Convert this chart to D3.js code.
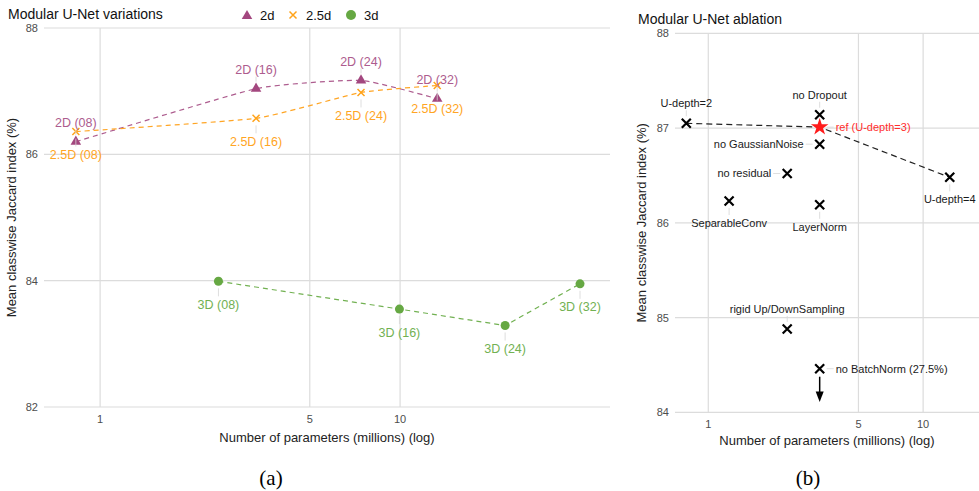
<!DOCTYPE html>
<html>
<head>
<meta charset="utf-8">
<script src="https://cdn.jsdelivr.net/npm/d3@7"></script>
<style>
  body { margin: 0; background: #fff; }
  svg { font-family: "Liberation Sans", Arial, sans-serif; }
</style>
</head>
<body>
<div id="chart"></div>
<script>
var width = 979
var height = 491

// panel (a) data
var sizeLabels = ["08", "16", "24", "32"]
var params2d = [0.83, 3.31, 7.41, 13.3]
var jac2d = [86.2, 87.04, 87.17, 86.88]
var params25d = [0.83, 3.31, 7.41, 13.3]
var jac25d = [86.36, 86.57, 86.98, 87.09]
var params3d = [2.48, 9.95, 22.4, 39.8]
var jac3d = [83.99, 83.55, 83.29, 83.95]
var legendNames = ["2d", "2.5d", "3d"]

// panel (b) data
var ablationNames = ["U-depth=2", "ref (U-depth=3)", "U-depth=4", "no Dropout", "no GaussianNoise",
    "no residual", "SeparableConv", "LayerNorm", "rigid Up/DownSampling", "no BatchNorm (27.5%)"]
var ablationParams = [0.79, 3.30, 13.3, 3.30, 3.30, 2.33, 1.25, 3.30, 2.33, 3.30]
var ablationJac = [87.05, 87.01, 86.48, 87.14, 86.83, 86.52, 86.23, 86.19, 84.88, 84.46]
var depthLine = [0, 1, 2]   // indices joined by the dashed line

var xTicks = [1, 5, 10]
var yTicksA = [82, 84, 86, 88]
var yTicksB = [84, 85, 86, 87, 88]

// label placement (style only)
var ablationPlace = ["above", "right", "below", "above", "left", "left", "below", "below", "above", "right"]

var grid = "#dcdcdc"
var tickCol = "#4d4d4d"

var svg = d3.select("#chart").append("svg")
    .attr("width", width)
    .attr("height", height)

function drawFrame(x, y, yTicks, left, right, top, bottom, title, titleX, ytitleX, xTickY, xTitleY) {
    var g = svg.append("g")
    yTicks.forEach(function(t) {
        g.append("line").attr("x1", left).attr("x2", right)
            .attr("y1", y(t)).attr("y2", y(t))
            .attr("stroke", grid).attr("stroke-width", 1.2)
        g.append("text").attr("x", left - 6).attr("y", y(t) + 4)
            .attr("text-anchor", "end").attr("font-size", 11).attr("fill", tickCol).text(t)
    })
    xTicks.forEach(function(t) {
        g.append("line").attr("x1", x(t)).attr("x2", x(t))
            .attr("y1", top).attr("y2", bottom)
            .attr("stroke", grid).attr("stroke-width", 1.2)
        g.append("text").attr("x", x(t)).attr("y", xTickY)
            .attr("text-anchor", "middle").attr("font-size", 11).attr("fill", tickCol).text(t)
    })
    g.append("text").attr("x", titleX).attr("y", top - 9)
        .attr("font-size", 14).attr("fill", "#111").text(title)
    g.append("text").attr("x", (left + right) / 2).attr("y", xTitleY)
        .attr("text-anchor", "middle").attr("font-size", 13).attr("fill", "#222")
        .text("Number of parameters (millions) (log)")
    g.append("text")
        .attr("transform", "translate(" + ytitleX + "," + ((top + bottom) / 2) + ") rotate(-90)")
        .attr("text-anchor", "middle").attr("font-size", 13).attr("fill", "#222")
        .text("Mean classwise Jaccard index (%)")
    return g
}

// leader segment + text
function labelAt(g, px, py, text, place, color, size, dy, gap) {
    var t = g.append("text").attr("font-size", size).attr("fill", color).text(text)
    var ly = py, lx = px
    if (place == "above") { ly = py + dy[0]; t.attr("text-anchor", "middle") }
    if (place == "below") { ly = py + dy[1]; t.attr("text-anchor", "middle") }
    if (place == "left") { lx = px - gap; t.attr("text-anchor", "end") }
    if (place == "right") { lx = px + gap; t.attr("text-anchor", "start") }
    t.attr("x", lx).attr("y", ly + size * 0.36)
    var seg = null
    if (place == "above") seg = [px, py - 7, px, ly + 7]
    if (place == "below") seg = [px, py + 7, px, ly - 8]
    if (place == "left") seg = [lx + 2, py, px - 7, py]
    if (place == "right") seg = [px + 7, py, lx - 2, py]
    if (seg && Math.abs(seg[0] - seg[2]) + Math.abs(seg[1] - seg[3]) > 3)
        g.insert("line", ":first-child").attr("x1", seg[0]).attr("y1", seg[1]).attr("x2", seg[2]).attr("y2", seg[3])
            .attr("stroke", "#d6d6d6").attr("stroke-width", 0.8)
}

// ---------- panel (a) ----------
var xa = d3.scaleLog().domain([0.65, 50.1]).range([44, 610])
var ya = d3.scaleLinear().domain([82, 88]).range([407, 28])
drawFrame(xa, ya, yTicksA, 44, 610, 28, 407, "Modular U-Net variations", 8, 16, 423, 442)

var series = [
    {name: "2D", px: params2d, py: jac2d, color: "#a3477f", lab: "#ad5c8e", shape: "tri", curve: d3.curveCardinal.tension(0.55), place: "above"},
    {name: "2.5D", px: params25d, py: jac25d, color: "#ffa31a", lab: "#ffa524", shape: "x", curve: d3.curveCardinal.tension(0.55), place: "below"},
    {name: "3D", px: params3d, py: jac3d, color: "#66a843", lab: "#72b152", shape: "dot", curve: d3.curveLinear, place: "below"}
]

var ga = svg.append("g")
var gaLab = svg.append("g")
series.forEach(function(s) {
    var pts = s.px.map(function(v, i) { return [xa(v), ya(s.py[i])] })
    ga.append("path").attr("d", d3.line().curve(s.curve)(pts))
        .attr("fill", "none").attr("stroke", s.lab).attr("stroke-width", 1.2)
        .attr("stroke-dasharray", "5,4")
})
series.forEach(function(s) {
    s.px.forEach(function(v, i) {
        var cx = xa(v), cy = ya(s.py[i])
        if (s.shape == "tri") {
            ga.append("path").attr("d", d3.symbol().type(d3.symbolTriangle).size(48)())
                .attr("transform", "translate(" + cx + "," + cy + ")").attr("fill", s.color)
        } else if (s.shape == "x") {
            ga.append("path").attr("d", "M-3.5,-3.5L3.5,3.5M-3.5,3.5L3.5,-3.5")
                .attr("transform", "translate(" + cx + "," + cy + ")")
                .attr("stroke", s.color).attr("stroke-width", 1.5)
        } else {
            ga.append("circle").attr("cx", cx).attr("cy", cy).attr("r", 4.5).attr("fill", s.color)
        }
        labelAt(gaLab, cx, cy, s.name + " (" + sizeLabels[i] + ")", s.place, s.lab, 12.5, [-19, 23], 14)
    })
})

// legend
var lg = svg.append("g")
var legX = [247, 293, 351]
legendNames.forEach(function(n, i) {
    var s = series[i]
    if (s.shape == "tri") {
        lg.append("path").attr("d", d3.symbol().type(d3.symbolTriangle).size(48)())
            .attr("transform", "translate(" + legX[i] + ",16)").attr("fill", s.color)
    } else if (s.shape == "x") {
        lg.append("path").attr("d", "M-3.5,-3.5L3.5,3.5M-3.5,3.5L3.5,-3.5")
            .attr("transform", "translate(" + legX[i] + ",15)")
            .attr("stroke", s.color).attr("stroke-width", 1.5)
    } else {
        lg.append("circle").attr("cx", legX[i]).attr("cy", 15).attr("r", 5).attr("fill", s.color)
    }
    lg.append("text").attr("x", legX[i] + 13).attr("y", 20).attr("font-size", 13)
        .attr("fill", "#111").text(n)
})

// ---------- panel (b) ----------
var xb = d3.scaleLog().domain([0.70, 18.2]).range([675, 979])
var yb = d3.scaleLinear().domain([84, 88]).range([412.3, 33.3])
drawFrame(xb, yb, yTicksB, 675, 979, 33.3, 412.3, "Modular U-Net ablation", 638, 646, 428, 445)

var gb = svg.append("g")
var gbLab = svg.append("g")
gb.append("path")
    .attr("d", d3.line()(depthLine.map(function(i) { return [xb(ablationParams[i]), yb(ablationJac[i])] })))
    .attr("fill", "none").attr("stroke", "#222").attr("stroke-width", 1.2).attr("stroke-dasharray", "6,4")

ablationNames.forEach(function(n, i) {
    var cx = xb(ablationParams[i]), cy = yb(ablationJac[i])
    var isRef = n.indexOf("ref") == 0
    if (isRef) {
        gb.append("path").attr("d", d3.symbol().type(d3.symbolStar).size(95)())
            .attr("transform", "translate(" + cx + "," + cy + ")").attr("fill", "#ff1a1a")
    } else {
        gb.append("path").attr("d", "M-4.5,-4.5L4.5,4.5M-4.5,4.5L4.5,-4.5")
            .attr("transform", "translate(" + cx + "," + cy + ")")
            .attr("stroke", "#000").attr("stroke-width", 2.2)
    }
    labelAt(gbLab, cx, cy, n, ablationPlace[i], isRef ? "#ff2d2d" : "#1a1a1a", 11, [-20, 22], 16)
})

// arrow for out-of-range BatchNorm value
var bn = ablationNames.length - 1
var ax = xb(ablationParams[bn])
gb.append("line").attr("x1", ax).attr("x2", ax)
    .attr("y1", yb(ablationJac[bn]) + 8).attr("y2", yb(84.2))
    .attr("stroke", "#000").attr("stroke-width", 1.5)
gb.append("path").attr("d", "M" + (ax - 4) + "," + yb(84.22) + "L" + (ax + 4) + "," + yb(84.22) + "L" + ax + "," + yb(84.11) + "Z")
    .attr("fill", "#000")

// panel captions
svg.append("text").attr("x", 271).attr("y", 485).attr("text-anchor", "middle")
    .attr("font-family", "Liberation Serif, serif").attr("font-size", 21).text("(a)")
svg.append("text").attr("x", 808).attr("y", 485).attr("text-anchor", "middle")
    .attr("font-family", "Liberation Serif, serif").attr("font-size", 21).text("(b)")
</script>
</body>
</html>
